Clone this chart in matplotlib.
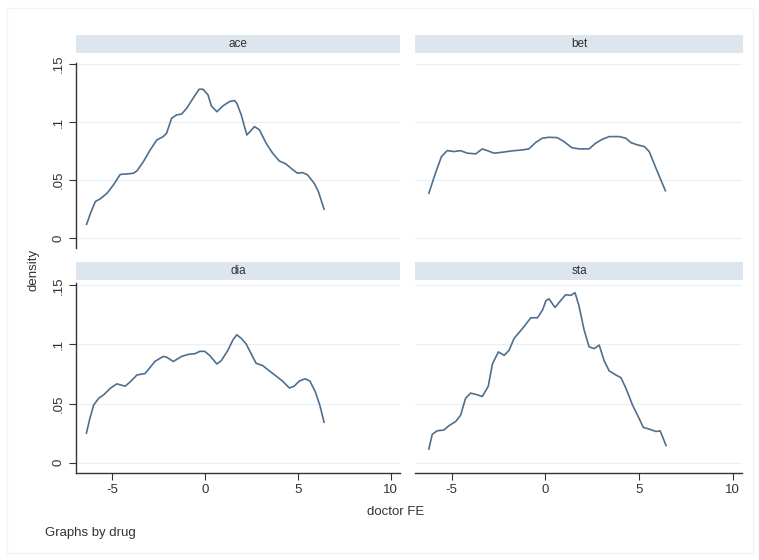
import numpy as np
import matplotlib
matplotlib.use('Agg')
import matplotlib.pyplot as plt
from matplotlib.patches import Rectangle

plt.rcParams['font.family'] = ['Liberation Sans', 'DejaVu Sans']

# kernel density of doctor fixed effects, one panel per drug
drugs = ['ace', 'bet', 'dia', 'sta']

ace_x = [-6.38, -6.17, -5.91, -5.64, -5.28, -4.93, -4.57, -4.21, -3.86, -3.67, -3.32, -2.96,
         -2.60, -2.25, -2.07, -1.80, -1.53, -1.26, -0.99, -0.64, -0.32, -0.11, 0.16, 0.34,
         0.64, 0.96, 1.32, 1.59, 1.71, 1.95, 2.25, 2.43, 2.66, 2.93, 3.29, 3.64, 4.00, 4.36,
         4.63, 4.98, 5.25, 5.52, 5.88, 6.11, 6.41]
ace_y = [0.012, 0.0215, 0.0316, 0.034, 0.0388, 0.046, 0.055, 0.0554, 0.056, 0.058, 0.066, 0.076,
         0.0847, 0.0876, 0.0905, 0.1034, 0.1063, 0.107, 0.112, 0.1207, 0.1284, 0.1284, 0.1235, 0.114,
         0.109, 0.114, 0.1178, 0.1186, 0.1164, 0.1063, 0.089, 0.092, 0.0962, 0.0934, 0.0819, 0.0733,
         0.0666, 0.064, 0.0603, 0.056, 0.0566, 0.0546, 0.0474, 0.040, 0.025]

bet_x = [-6.21, -5.86, -5.54, -5.23, -4.87, -4.52, -4.16, -3.71, -3.36, -3.09, -2.73, -2.29,
         -1.76, -1.23, -0.87, -0.52, -0.16, 0.20, 0.64, 1.00, 1.41, 1.80, 2.34, 2.69, 3.05,
         3.41, 3.94, 4.30, 4.57, 4.93, 5.29, 5.55, 5.91, 6.41]
bet_y = [0.0388, 0.056, 0.0703, 0.0755, 0.0747, 0.0755, 0.0733, 0.0727, 0.077, 0.0755, 0.0733, 0.0741,
         0.0753, 0.0761, 0.077, 0.0824, 0.0862, 0.087, 0.0867, 0.0833, 0.0781, 0.077, 0.077, 0.0819,
         0.0853, 0.0876, 0.0876, 0.0862, 0.0824, 0.0804, 0.079, 0.0747, 0.0603, 0.041]

dia_x = [-6.39, -6.21, -6.00, -5.73, -5.46, -5.10, -4.75, -4.30, -4.03, -3.67, -3.23, -2.96,
         -2.69, -2.25, -2.07, -1.71, -1.26, -0.91, -0.55, -0.28, -0.02, 0.25, 0.64, 0.88,
         1.23, 1.50, 1.71, 1.95, 2.22, 2.48, 2.75, 3.11, 3.46, 3.82, 4.18, 4.54, 4.80, 5.07,
         5.39, 5.65, 5.93, 6.18, 6.41]
dia_y = [0.025, 0.037, 0.0487, 0.0545, 0.0574, 0.063, 0.0667, 0.0647, 0.0684, 0.0742, 0.0754, 0.0806,
         0.0858, 0.0899, 0.0893, 0.0856, 0.0899, 0.0916, 0.0922, 0.0942, 0.0942, 0.0907, 0.0835, 0.0864,
         0.0951, 0.1038, 0.1082, 0.1052, 0.1003, 0.0922, 0.0841, 0.0821, 0.0777, 0.0734, 0.069, 0.0632,
         0.0647, 0.069, 0.071, 0.069, 0.0603, 0.0487, 0.0343]

sta_x = [-6.21, -6.03, -5.77, -5.41, -5.14, -4.78, -4.52, -4.25, -3.98, -3.62, -3.36, -3.04,
         -2.82, -2.50, -2.19, -1.93, -1.66, -1.39, -1.12, -0.77, -0.41, -0.14, 0.04, 0.20,
         0.52, 0.82, 1.09, 1.36, 1.59, 1.80, 2.07, 2.34, 2.61, 2.88, 3.14, 3.41, 3.77, 4.04,
         4.30, 4.66, 5.02, 5.23, 5.55, 5.91, 6.13, 6.45]
sta_y = [0.0116, 0.024, 0.027, 0.0276, 0.0313, 0.0348, 0.040, 0.0545, 0.0589, 0.0574, 0.056, 0.0647,
         0.0835, 0.0937, 0.0908, 0.0951, 0.1052, 0.1102, 0.1154, 0.1226, 0.1226, 0.1293, 0.1371, 0.1386,
         0.1313, 0.1371, 0.1421, 0.1415, 0.1438, 0.1328, 0.1125, 0.098, 0.0965, 0.0995, 0.0864, 0.0777,
         0.0742, 0.0719, 0.0632, 0.0487, 0.0371, 0.0299, 0.0284, 0.0264, 0.027, 0.0145]

curves = {'ace': (ace_x, ace_y), 'bet': (bet_x, bet_y), 'dia': (dia_x, dia_y), 'sta': (sta_x, sta_y)}

y_ticks = [0, 0.05, 0.1, 0.15]
y_labels = ['0', '.05', '.1', '.15']
x_ticks = [-5, 0, 5, 10]
x_labels = ['-5', '0', '5', '10']

W, H = 759, 560
line_col = '#4f6f8c'
strip_col = '#dde5ee'
axis_col = '#333333'
text_col = '#333333'

fig = plt.figure(figsize=(W / 100, H / 100), dpi=100)
fig.patch.set_facecolor('white')

# faint outer frame
fig.patches.append(Rectangle((7 / W, 1 - 553 / H), 746 / W, 545 / H, transform=fig.transFigure,
                             fill=False, edgecolor='#f1f4f7', linewidth=1.0))

# panel boxes in pixels: (left, right, top, bottom), strip (top, bottom)
cols = [(76, 400), (415, 742)]
rows = [(63, 248, 35, 53), (283, 473, 262, 280)]

for i, drug in enumerate(drugs):
    r, c = divmod(i, 2)
    x0, x1 = cols[c]
    y0, y1, s0, s1 = rows[r]
    ax = fig.add_axes([x0 / W, 1 - y1 / H, (x1 - x0) / W, (y1 - y0) / H])
    xs, ys = curves[drug]
    ax.plot(xs, ys, color=line_col, linewidth=1.2)
    ax.set_xlim(-6.95, 10.5)
    if r == 0:
        ax.set_ylim(-0.0084, 0.151)
    else:
        ax.set_ylim(-0.0087, 0.152)
    for t in y_ticks:
        ax.axhline(t, color='#eaf0f5', linewidth=0.9, zorder=0)
    for s in ['top', 'right']:
        ax.spines[s].set_visible(False)
    ax.spines['left'].set_color(axis_col)
    ax.spines['bottom'].set_color(axis_col)
    ax.spines['left'].set_linewidth(1.0)
    ax.spines['bottom'].set_linewidth(1.0)
    ax.set_yticks(y_ticks)
    ax.set_xticks(x_ticks)
    if c == 0:
        ax.set_yticklabels(y_labels, rotation=90, va='center', fontsize=9.5, color=text_col)
        ax.tick_params(axis='y', length=5, color=axis_col, pad=3)
    else:
        ax.spines['left'].set_visible(False)
        ax.tick_params(axis='y', left=False, labelleft=False)
    if r == 1:
        ax.set_xticklabels(x_labels, fontsize=9.5, color=text_col)
        ax.tick_params(axis='x', length=5, color=axis_col, pad=3)
    else:
        ax.spines['bottom'].set_visible(False)
        ax.tick_params(axis='x', bottom=False, labelbottom=False)

    # strip header
    sx1 = 743 if c == 1 else x1
    fig.patches.append(Rectangle((x0 / W, 1 - s1 / H), (sx1 - x0) / W, (s1 - s0) / H,
                                 transform=fig.transFigure, facecolor=strip_col, edgecolor='none'))
    fig.text((x0 + sx1) / 2 / W, 1 - (s0 + s1) / 2 / H, drug, ha='center', va='center',
             fontsize=8.5, color=text_col)

fig.text(33 / W, 1 - 270 / H, 'density', rotation=90, ha='center', va='center',
         fontsize=9.5, color=text_col)
fig.text(396 / W, 1 - 512 / H, 'doctor FE', ha='center', va='center', fontsize=9.5, color=text_col)
fig.text(45 / W, 1 - 533 / H, 'Graphs by drug', ha='left', va='center', fontsize=9.5, color=text_col)

fig.savefig('out.png', dpi=100, facecolor='white')
